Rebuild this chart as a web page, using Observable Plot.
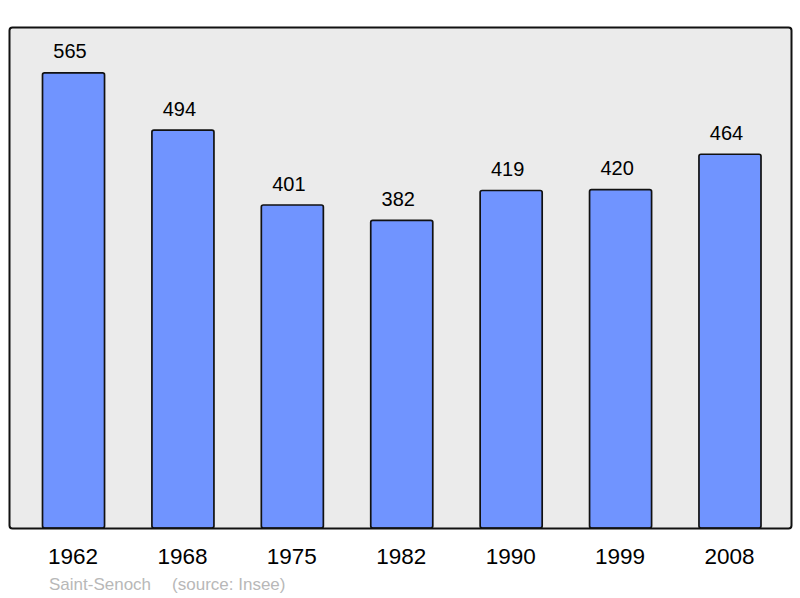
<!DOCTYPE html>
<html>
<head>
<meta charset="utf-8">
<script src="https://cdn.jsdelivr.net/npm/d3@7"></script>
<script src="https://cdn.jsdelivr.net/npm/@observablehq/plot@0.6"></script>
<style>
  html, body { margin: 0; padding: 0; background: #fff; }
  body { width: 800px; height: 598px; overflow: hidden; font-family: "Liberation Sans", Arial, sans-serif; }
  #caption { position: absolute; left: 49px; top: 575px; font-size: 17px; color: #b8b8b8; white-space: nowrap; }
  #caption span + span { margin-left: 21px; }
</style>
</head>
<body>
<div id="chart"></div>
<div id="caption"><span>Saint-Senoch</span><span>(source: Insee)</span></div>
<script>
const years = ["1962", "1968", "1975", "1982", "1990", "1999", "2008"];
const population = [565, 494, 401, 382, 419, 420, 464];

const data = years.map((y, i) => ({year: y, pop: population[i]}));

const chart = Plot.plot({
  width: 800,
  height: 570,
  marginTop: 27,
  marginBottom: 42,
  marginLeft: 9,
  marginRight: 9,
  style: {fontFamily: "Liberation Sans, Arial, sans-serif", background: "transparent"},
  x: {domain: years, range: [42.5, 761], round: false, paddingInner: 0.433, paddingOuter: 0, label: null},
  y: {domain: [0, 622], axis: null},
  marks: [
    Plot.frame({fill: "#ebebeb", stroke: "none"}),
    Plot.barY(data, {x: "year", y: "pop", fill: "#7094ff", stroke: "#111", strokeWidth: 1.7, rx: 2}),
    Plot.text(data, {x: "year", y: "pop", text: d => String(d.pop), lineAnchor: "bottom", dy: -15, dx: -4, fontSize: 20, fill: "#000"}),
    Plot.frame({stroke: "#111", strokeWidth: 2, rx: 3}),
    Plot.axisX({tickSize: 0, tickPadding: 20, dx: -1, fontSize: 22.5, color: "#000"})
  ]
});
document.getElementById("chart").appendChild(chart);
</script>
</body>
</html>
